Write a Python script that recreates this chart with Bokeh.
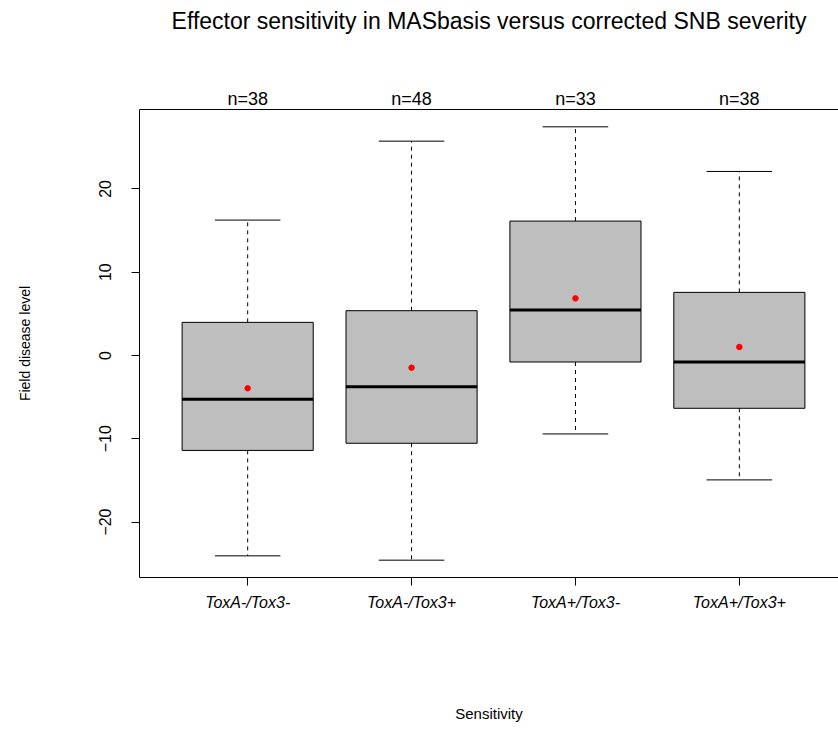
from bokeh.plotting import figure
from bokeh.models import Range1d, FixedTicker, LinearAxis
from bokeh.embed import file_html
from bokeh.resources import INLINE

# Five-number summaries and means per effector sensitivity group
groups = ["ToxA-/Tox3-", "ToxA-/Tox3+", "ToxA+/Tox3-", "ToxA+/Tox3+"]
counts = [38, 48, 33, 38]
lower_whisker = [-24.06, -24.58, -9.42, -14.94]
q1 = [-11.40, -10.54, -0.78, -6.34]
median = [-5.26, -3.74, 5.46, -0.78]
q3 = [3.98, 5.38, 16.14, 7.58]
upper_whisker = [16.26, 25.74, 27.46, 22.10]
means = [-3.94, -1.46, 6.86, 1.02]
y_ticks = [-20, -10, 0, 10, 20]

title_text = "Effector sensitivity in MASbasis versus corrected SNB severity"
x_title = "Sensitivity"
y_title = "Field disease level"

FONT = "Liberation Sans"
pos = list(range(1, len(groups) + 1))
box_half = 0.4
cap_half = 0.2

p = figure(
    width=838, height=729,
    x_range=Range1d(0.34, 4.605), y_range=Range1d(-26.66, 29.54),
    output_backend="svg", toolbar_location=None, title_location=None,
    min_border_left=139, min_border_right=0,
    min_border_top=109, min_border_bottom=152,
)
p.xgrid.visible = False
p.ygrid.visible = False
p.outline_line_color = None
p.background_fill_color = "white"
p.border_fill_color = "white"

# whiskers (dashed) and staples
p.segment(x0=pos, y0=q3, x1=pos, y1=upper_whisker, line_color="black",
          line_width=1, line_dash="4 4")
p.segment(x0=pos, y0=q1, x1=pos, y1=lower_whisker, line_color="black",
          line_width=1, line_dash="4 4")
p.segment(x0=[x - cap_half for x in pos], y0=upper_whisker,
          x1=[x + cap_half for x in pos], y1=upper_whisker,
          line_color="black", line_width=1)
p.segment(x0=[x - cap_half for x in pos], y0=lower_whisker,
          x1=[x + cap_half for x in pos], y1=lower_whisker,
          line_color="black", line_width=1)

# boxes
p.quad(left=[x - box_half for x in pos], right=[x + box_half for x in pos],
       bottom=q1, top=q3, fill_color="#BEBEBE", line_color="black", line_width=1)

# medians
p.segment(x0=[x - box_half for x in pos], y0=median,
          x1=[x + box_half for x in pos], y1=median,
          line_color="black", line_width=3)

# means
p.scatter(x=pos, y=means, size=5.5, fill_color="red", line_color="red")


def style_axis(ax):
    ax.major_tick_in = 0
    ax.minor_tick_out = 0
    ax.minor_tick_in = 0
    ax.axis_line_color = "black"
    ax.major_tick_line_color = "black"
    ax.major_label_text_font = FONT
    ax.major_label_text_color = "black"
    ax.axis_label_text_font = FONT
    ax.axis_label_text_font_style = "normal"
    ax.axis_label_text_color = "black"


# bottom axis with group names
xa = p.xaxis[0]
style_axis(xa)
xa.ticker = FixedTicker(ticks=pos)
xa.major_label_overrides = {x: g for x, g in zip(pos, groups)}
xa.major_label_text_font_size = "16px"
xa.major_label_text_font_style = "italic"
xa.major_tick_out = 8
xa.major_label_standoff = 8
xa.axis_label = x_title
xa.axis_label_text_font_size = "15px"
xa.axis_label_standoff = 91

# left axis
ya = p.yaxis[0]
style_axis(ya)
ya.ticker = FixedTicker(ticks=y_ticks)
ya.major_label_text_font_size = "16px"
ya.major_label_orientation = "vertical"
ya.major_tick_out = 8
ya.major_label_standoff = 20
ya.axis_label = y_title
ya.axis_label_text_font_size = "14px"
ya.axis_label_standoff = 64

# group sizes along the top border, chart title above them
top = LinearAxis(ticker=FixedTicker(ticks=pos))
style_axis(top)
top.major_label_overrides = {x: f"n={n}" for x, n in zip(pos, counts)}
top.major_label_text_font_size = "18px"
top.major_tick_out = 0
top.major_label_standoff = 1
top.axis_label = title_text
top.axis_label_text_font_size = "23px"
top.axis_label_standoff = 52
p.add_layout(top, "above")

open("out.html", "w").write(file_html(p, INLINE))
